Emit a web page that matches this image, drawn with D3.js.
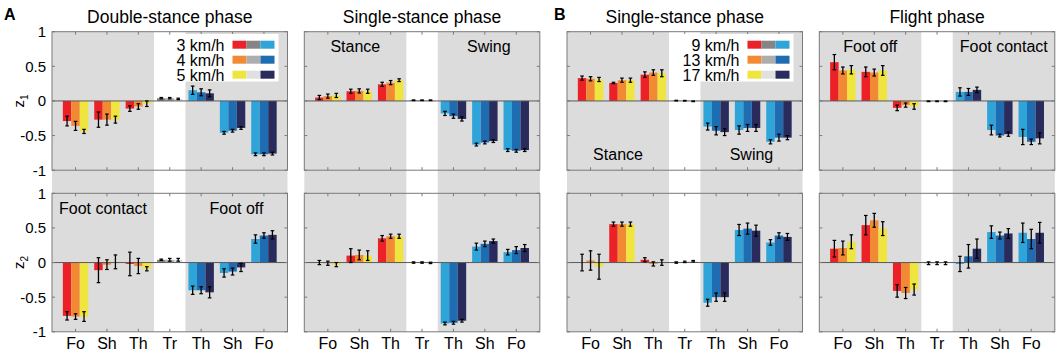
<!DOCTYPE html>
<html><head><meta charset="utf-8">
<script src="https://cdn.jsdelivr.net/npm/d3@7"></script>
<style>body{margin:0;background:#fff} svg{display:block;font-family:Arial,"Liberation Sans",sans-serif}</style>
</head><body><svg id="c" width="1058" height="353"></svg>
<script>
// ---------- data ----------
const categories = ["Fo","Sh","Th","Tr","Th","Sh","Fo"];
const yTicks = [1, 0.5, 0, -0.5, -1];
const yTickLabels = ["1","0.5","0","-0.5","-1"];
const panelTitles = ["Double-stance phase","Single-stance phase","Single-stance phase","Flight phase"];
const panelLetters = ["A","B"];
const legendA = ["3 km/h","4 km/h","5 km/h"];
const legendB = ["9 km/h","13 km/h","17 km/h"];
const rowLabels = ["z","z"];
const rowSubs = ["1","2"];
const warmColors = ["#ec2127","#f28a33","#f0e43f"];
const trunkColors = ["#858585","#adadad","#e0e0e0"];
const coolColors = ["#2ea4d8","#1e6db2","#282b5b"];

// z1 (top row) means & SD, 7 groups x 3 speeds
const z1DoubleA = [[-0.29,-0.36,-0.44],[-0.27,-0.27,-0.27],[-0.11,-0.08,-0.04],[0.04,0.04,0.03],[0.155,0.125,0.11],[-0.46,-0.43,-0.39],[-0.77,-0.77,-0.76]];
const z1DoubleAErr = [[0.07,0.065,0.03],[0.11,0.08,0.05],[0.04,0.04,0.04],[0.01,0.01,0.01],[0.06,0.05,0.05],[0.02,0.02,0.02],[0.02,0.02,0.02]];
const z1SingleA = [[0.05,0.07,0.08],[0.14,0.145,0.14],[0.24,0.265,0.30],[0.01,0.01,0.01],[-0.18,-0.22,-0.26],[-0.63,-0.60,-0.58],[-0.71,-0.72,-0.71]];
const z1SingleAErr = [[0.03,0.03,0.03],[0.03,0.03,0.03],[0.03,0.03,0.02],[0.005,0.005,0.005],[0.03,0.03,0.03],[0.02,0.02,0.02],[0.02,0.02,0.02]];
const z1SingleB = [[0.33,0.32,0.31],[0.26,0.30,0.30],[0.38,0.41,0.40],[0.005,0.003,-0.005],[-0.37,-0.43,-0.45],[-0.42,-0.39,-0.39],[-0.59,-0.53,-0.53]];
const z1SingleBErr = [[0.03,0.03,0.03],[0.01,0.03,0.03],[0.04,0.04,0.05],[0.005,0.005,0.005],[0.05,0.06,0.05],[0.06,0.05,0.05],[0.03,0.05,0.03]];
const z1FlightB = [[0.56,0.44,0.45],[0.42,0.41,0.44],[-0.10,-0.06,-0.08],[-0.005,-0.005,-0.005],[0.13,0.13,0.16],[-0.42,-0.50,-0.48],[-0.52,-0.59,-0.54]];
const z1FlightBErr = [[0.11,0.05,0.06],[0.07,0.05,0.07],[0.04,0.03,0.04],[0.005,0.005,0.005],[0.06,0.05,0.04],[0.07,0.02,0.03],[0.11,0.04,0.08]];

// z2 (bottom row)
const z2DoubleA = [[-0.77,-0.78,-0.78],[-0.11,-0.03,0.01],[-0.02,-0.05,-0.09],[0.04,0.04,0.04],[-0.40,-0.40,-0.43],[-0.15,-0.13,-0.07],[0.34,0.39,0.40]];
const z2DoubleAErr = [[0.06,0.04,0.07],[0.18,0.07,0.10],[0.17,0.11,0.03],[0.01,0.02,0.02],[0.06,0.05,0.08],[0.06,0.05,0.06],[0.06,0.04,0.06]];
const z2SingleA = [[0.00,-0.01,-0.03],[0.10,0.11,0.10],[0.35,0.38,0.38],[0.0,0.0,-0.005],[-0.88,-0.87,-0.84],[0.23,0.27,0.31],[0.15,0.18,0.21]];
const z2SingleAErr = [[0.03,0.03,0.03],[0.10,0.07,0.07],[0.04,0.03,0.03],[0.01,0.01,0.01],[0.02,0.02,0.02],[0.05,0.04,0.03],[0.04,0.05,0.05]];
const z2SingleB = [[0.00,0.03,-0.06],[0.555,0.555,0.555],[0.04,-0.02,0.00],[0.00,0.01,0.02],[-0.58,-0.50,-0.50],[0.47,0.49,0.46],[0.29,0.39,0.37]];
const z2SingleBErr = [[0.12,0.14,0.18],[0.03,0.03,0.03],[0.03,0.03,0.04],[0.01,0.01,0.01],[0.05,0.06,0.06],[0.08,0.08,0.08],[0.04,0.04,0.05]];
const z2FlightB = [[0.20,0.21,0.30],[0.54,0.61,0.49],[-0.41,-0.44,-0.39],[-0.01,-0.01,-0.01],[-0.02,0.09,0.20],[0.44,0.39,0.42],[0.43,0.34,0.43]];
const z2FlightBErr = [[0.12,0.10,0.10],[0.14,0.10,0.10],[0.09,0.08,0.08],[0.02,0.02,0.02],[0.11,0.17,0.14],[0.09,0.05,0.07],[0.14,0.14,0.15]];

// region labels: [panel][row]
const regionLabels = [
  [null, {l:"Foot contact", r:"Foot off", pos:"top"}],
  [{l:"Stance", r:"Swing", pos:"top"}, null],
  [{l:"Stance", r:"Swing", pos:"bottom"}, null],
  [{l:"Foot off", r:"Foot contact", pos:"top"}, null]
];

// ---------- layout ----------
const panelLefts = [52, 304.3, 567, 819.3];
const panelW = 235.5;
const rowTops = [31.7, 193.3];
const panelH = 138.5;
const frameColor = "#7a7a7a";
const bgGray = "#dcdcdc";

const rows = [[z1DoubleA,z1SingleA,z1SingleB,z1FlightB],[z2DoubleA,z2SingleA,z2SingleB,z2FlightB]];
const rowsErr = [[z1DoubleAErr,z1SingleAErr,z1SingleBErr,z1FlightBErr],[z2DoubleAErr,z2SingleAErr,z2SingleBErr,z2FlightBErr]];

const svg = d3.select("#c");

function colorFor(g, j){ return g < 3 ? warmColors[j] : (g === 3 ? trunkColors[j] : coolColors[j]); }

panelLefts.forEach((pl, p) => {
  const x = d3.scaleLinear().domain([0.25, 7.75]).range([pl, pl + panelW]);
  const top = rowTops[0], bot = rowTops[1] + panelH;
  svg.append("rect").attr("x", x(0.25)).attr("y", top).attr("width", x(3.5)-x(0.25)).attr("height", bot-top).attr("fill", bgGray);
  svg.append("rect").attr("x", x(4.5)).attr("y", top).attr("width", x(7.75)-x(4.5)).attr("height", bot-top).attr("fill", bgGray);
});

panelLefts.forEach((pl, p) => {
  const x = d3.scaleLinear().domain([0.25, 7.75]).range([pl, pl + panelW]);
  const bw = x(0.27) - x(0);
  rowTops.forEach((rt, r) => {
    const y = d3.scaleLinear().domain([-1, 1]).range([rt + panelH, rt]);
    const g = svg.append("g");
    const data = rows[r][p], err = rowsErr[r][p];

    let legend = null;
    if (r === 0 && (p === 0 || p === 2)) legend = p === 0 ? legendA : legendB;
    if (legend) {
      const lg = svg.append("g");
      const swEnd = pl + panelW - 13;
      const swW = 14, swH = 8;
      const swStart = swEnd - 3*swW;
      const rowsY = [44.7, 59.7, 74.7];
      const box = lg.append("rect").attr("fill", "#fff");
      let maxW = 0;
      legend.forEach((t, i) => {
        const tx = lg.append("text").attr("x", swStart - 8).attr("y", rowsY[i] + 5.8)
          .attr("text-anchor", "end").attr("font-size", "16px").attr("fill", "#000").text(t);
        maxW = Math.max(maxW, tx.node().getComputedTextLength());
        [warmColors, trunkColors, coolColors].forEach((cs, k) => {
          lg.append("rect").attr("x", swStart + k*swW).attr("y", rowsY[i] - swH/2)
            .attr("width", swW).attr("height", swH).attr("fill", cs[i]);
        });
      });
      const bl = swStart - 8 - maxW - 5;
      box.attr("x", bl).attr("y", rt + 2.3).attr("width", swEnd + 4 - bl).attr("height", 81.5 - rt - 2.3);
    }

    data.forEach((vals, gi) => {
      vals.forEach((v, j) => {
        const cx = x(gi + 1 + (j - 1) * 0.27);
        g.append("rect").attr("x", cx - bw/2).attr("width", bw)
          .attr("y", Math.min(y(v), y(0))).attr("height", Math.abs(y(v) - y(0)))
          .attr("fill", colorFor(gi, j));
      });
    });
    g.append("line").attr("x1", pl).attr("x2", pl + panelW).attr("y1", y(0)).attr("y2", y(0))
      .attr("stroke", "#5a5a5a").attr("stroke-width", 1);
    data.forEach((vals, gi) => {
      vals.forEach((v, j) => {
        const cx = x(gi + 1 + (j - 1) * 0.27);
        const e = err[gi][j];
        const y1 = y(v - e), y2 = y(v + e);
        g.append("line").attr("x1", cx).attr("x2", cx).attr("y1", y1).attr("y2", y2).attr("stroke", "#000").attr("stroke-width", 1.3);
        [y1, y2].forEach(yy => g.append("line").attr("x1", cx - 1.8).attr("x2", cx + 1.8).attr("y1", yy).attr("y2", yy).attr("stroke", "#000").attr("stroke-width", 1.2));
      });
    });
    g.append("rect").attr("x", pl).attr("y", rt).attr("width", panelW).attr("height", panelH)
      .attr("fill", "none").attr("stroke", frameColor).attr("stroke-width", 1);
    yTicks.forEach(t => {
      g.append("line").attr("x1", pl).attr("x2", pl + 3).attr("y1", y(t)).attr("y2", y(t)).attr("stroke", frameColor);
      g.append("line").attr("x1", pl + panelW - 3).attr("x2", pl + panelW).attr("y1", y(t)).attr("y2", y(t)).attr("stroke", frameColor);
    });
    categories.forEach((c, i) => {
      const xx = x(i + 1);
      g.append("line").attr("x1", xx).attr("x2", xx).attr("y1", rt).attr("y2", rt + 3).attr("stroke", frameColor);
      g.append("line").attr("x1", xx).attr("x2", xx).attr("y1", rt + panelH - 3).attr("y2", rt + panelH).attr("stroke", frameColor);
    });
    if (p === 0) {
      yTicks.forEach((t, i) => {
        g.append("text").attr("x", pl - 6).attr("y", y(t)).attr("dy", "0.36em").attr("text-anchor", "end")
          .attr("font-size", "15px").attr("fill", "#000").text(yTickLabels[i]);
      });
      const lab = g.append("text").attr("transform", `translate(24,${y(0)}) rotate(-90)`)
        .attr("text-anchor", "middle").attr("font-size", "15px").attr("fill", "#000");
      lab.append("tspan").text(rowLabels[r]);
      lab.append("tspan").attr("font-size", "10px").attr("dy", "4").text(rowSubs[r]);
    }
    if (r === 1) {
      categories.forEach((c, i) => {
        g.append("text").attr("x", x(i + 1)).attr("y", 348.5).attr("text-anchor", "middle")
          .attr("font-size", "16px").attr("fill", "#000").text(c);
      });
    }
    const rl = regionLabels[p][r];
    if (rl) {
      const yy = rl.pos === "top" ? rt + 20.5 : rt + panelH - 10;
      g.append("text").attr("x", (x(0.25) + x(3.5)) / 2).attr("y", yy).attr("text-anchor", "middle")
        .attr("font-size", "16px").attr("fill", "#000").text(rl.l);
      g.append("text").attr("x", (x(4.5) + x(7.75)) / 2).attr("y", yy).attr("text-anchor", "middle")
        .attr("font-size", "16px").attr("fill", "#000").text(rl.r);
    }
  });
  svg.append("text").attr("x", pl + panelW / 2).attr("y", 22.5).attr("text-anchor", "middle")
    .attr("font-size", "17.5px").attr("fill", "#000").text(panelTitles[p]);
});

svg.append("text").attr("x", 4).attr("y", 20).attr("font-size", "16px").attr("font-weight", "bold").text(panelLetters[0]);
svg.append("text").attr("x", 554).attr("y", 20).attr("font-size", "16px").attr("font-weight", "bold").text(panelLetters[1]);
</script></body></html>
